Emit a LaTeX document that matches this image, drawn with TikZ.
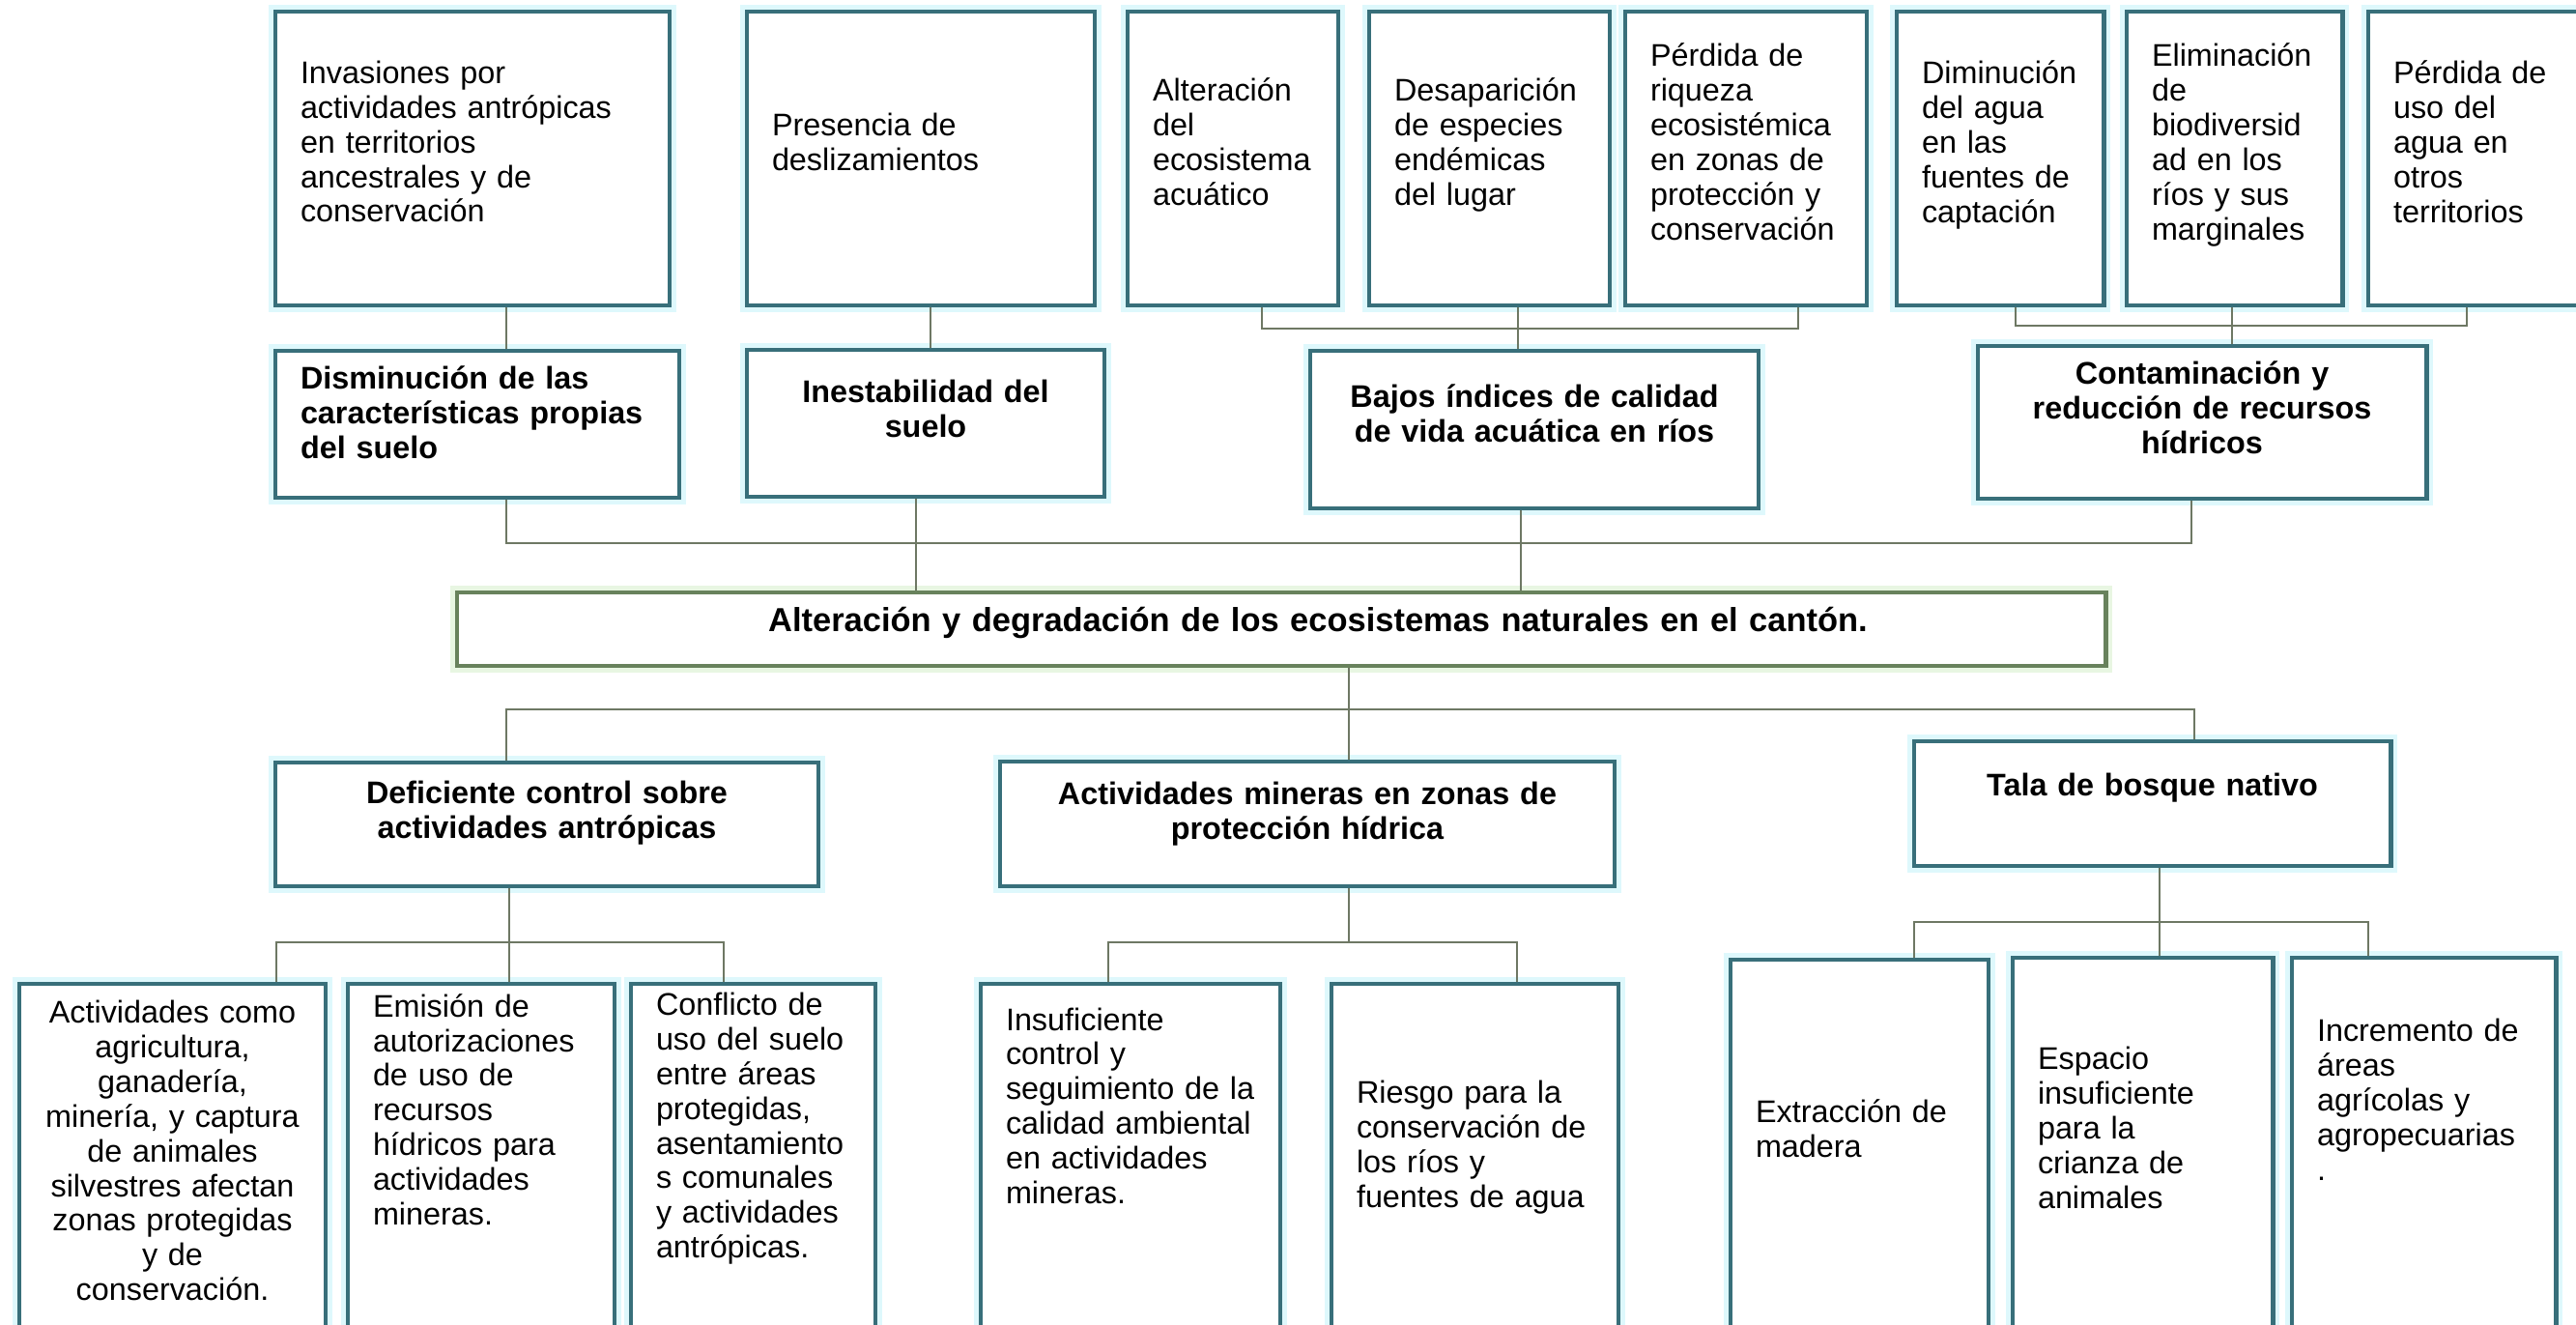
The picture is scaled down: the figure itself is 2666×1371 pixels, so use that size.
\documentclass[tikz,border=0pt]{standalone}
\usepackage{fontspec}
\setmainfont{Liberation Sans}
\hyphenpenalty=10000
\exhyphenpenalty=10000
\definecolor{boxteal}{RGB}{56,111,122}
\definecolor{coreline}{RGB}{104,130,92}
\definecolor{linkgray}{RGB}{110,120,100}
\definecolor{glow}{RGB}{222,248,252}
\definecolor{coreglow}{RGB}{232,246,226}

\begin{document}
\begin{tikzpicture}[
    x=0.01cm, y=-0.01cm,
    box/.style={
        draw=boxteal,
        line width=1.4pt,
        fill=white,
        rectangle,
        inner xsep=0.26cm,
        inner ysep=0pt,
        font=\fontsize{9.2}{10.2}\selectfont,
        preaction={draw=glow, line width=4pt}
    },
    effect/.style={box, align=left},
    cause/.style={box, align=center, font=\fontsize{9.2}{10.2}\selectfont\bfseries},
    core/.style={cause, draw=coreline, font=\fontsize{9.8}{10.8}\selectfont\bfseries, preaction={draw=coreglow, line width=4pt}},
    sz/.style 2 args={
        minimum width=#1*0.01cm,
        minimum height=#2*0.01cm,
        /utils/exec={\pgfmathsetlengthmacro\boxtw{(#1-52)*0.01cm}},
        text width=\boxtw
    },
    lift/.style={execute at end node={\rule[-#1]{0pt}{#1}}},
    link/.style={draw=linkgray, line width=0.7pt}
]
\useasboundingbox (0,0) rectangle (2666,1371);
\clip (0,0) rectangle (2666,1371);

% effects
\node[effect, sz={408}{304}, lift=0.35cm] (inv) at (489,164) {Invasiones por\\actividades antrópicas\\en territorios\\ancestrales y de\\conservación};
\node[effect, sz={360}{304}, lift=0.35cm] (pres) at (953,164) {Presencia de\\deslizamientos};
\node[effect, sz={218}{304}, lift=0.35cm] (alt) at (1276,164) {Alteración\\del\\ecosistema\\acuático};
\node[effect, sz={249}{304}, lift=0.35cm] (desap) at (1541.5,164) {Desaparición\\de especies\\endémicas\\del lugar};
\node[effect, sz={250}{304}, lift=0.35cm] (riq) at (1807,164) {Pérdida de\\riqueza\\ecosistémica\\en zonas de\\protección y\\conservación};
\node[effect, sz={214}{304}, lift=0.35cm] (dimin) at (2070,164) {Diminución\\del agua\\en las\\fuentes de\\captación};
\node[effect, sz={223}{304}, lift=0.35cm] (elim) at (2312.5,164) {Eliminación\\de\\biodiversid\\ad en los\\ríos y sus\\marginales};
\node[effect, sz={217}{304}, lift=0.35cm] (perdu) at (2559.5,164) {Pérdida de\\uso del\\agua en\\otros\\territorios};

\node[cause, sz={418}{152}, lift=0.24cm, align=left] (dism) at (494,439) {Disminución de las\\características propias\\del suelo};
\node[cause, sz={370}{152}, lift=0.31cm] (inest) at (958,438) {Inestabilidad del\\suelo};
\node[cause, sz={464}{163}, lift=0.34cm] (bajos) at (1588,444.5) {Bajos índices de calidad\\de vida acuática en ríos};
\node[cause, sz={464}{158}, lift=0.31cm] (cont) at (2279,437) {Contaminación y\\reducción de recursos\\hídricos};

% central problem
\node[core, sz={1706}{76}, lift=0.21cm] (core) at (1326,651) {\hspace*{0.76cm}Alteración y degradación de los ecosistemas naturales en el cantón.};

% causes
\node[cause, sz={562}{128}, lift=0.31cm] (defi) at (566,853) {Deficiente control sobre\\actividades antrópicas};
\node[cause, sz={636}{129}, lift=0.27cm] (mine) at (1353,852.5) {Actividades mineras en zonas de\\protección hídrica};
\node[cause, sz={493}{129}, lift=0.40cm] (tala) at (2227.5,831.5) {Tala de bosque nativo};

\node[effect, sz={317}{382}, lift=0.37cm, align=center] (act) at (178.5,1209) {Actividades como\\agricultura,\\ganadería,\\minería, y captura\\de animales\\silvestres afectan\\zonas protegidas\\y de\\conservación.};
\node[effect, sz={276}{382}, lift=1.22cm] (emis) at (498,1209) {Emisión de\\autorizaciones\\de uso de\\recursos\\hídricos para\\actividades\\mineras.};
\node[effect, sz={253}{382}, lift=0.89cm] (conf) at (779.5,1209) {Conflicto de\\uso del suelo\\entre áreas\\protegidas,\\asentamiento\\s comunales\\y actividades\\antrópicas.};
\node[effect, sz={310}{382}, lift=1.30cm] (insuf) at (1170,1209) {Insuficiente\\control y\\seguimiento de la\\calidad ambiental\\en actividades\\mineras.};
\node[effect, sz={297}{382}, lift=0.50cm] (ries) at (1526.5,1209) {Riesgo para la\\conservación de\\los ríos y\\fuentes de agua};
\node[effect, sz={267}{407}, lift=0.57cm] (extr) at (1924.5,1196.5) {Extracción de\\madera};
\node[effect, sz={269}{409}, lift=0.57cm] (esp) at (2217.5,1195.5) {Espacio\\insuficiente\\para la\\crianza de\\animales};
\node[effect, sz={273}{409}, lift=1.15cm] (incr) at (2508.5,1195.5) {Incremento de\\áreas\\agrícolas y\\agropecuarias\\.};

% upper brackets
\draw[link] (inv.south -| 524,0) -- (dism.north -| 524,0);
\draw[link] (pres.south -| 963,0) -- (inest.north -| 963,0);
\coordinate (qa) at (1306,340);
\coordinate (qb) at (1861,340);
\draw[link] (alt.south -| qa) |- (qb) -- (riq.south -| qb);
\draw[link] (desap.south -| 1571,0) -- (bajos.north -| 1571,0);
\coordinate (ra) at (2086,337);
\coordinate (rb) at (2553,337);
\draw[link] (dimin.south -| ra) |- (rb) -- (perdu.south -| rb);
\draw[link] (elim.south -| 2310,0) -- (cont.north -| 2310,0);

% second row to central problem
\coordinate (sa) at (524,562);
\coordinate (sb) at (2268,562);
\draw[link] (dism.south -| sa) |- (sb) -- (cont.south -| sb);
\draw[link] (inest.south -| 948,0) -- (core.north -| 948,0);
\draw[link] (bajos.south -| 1574,0) -- (core.north -| 1574,0);

% central problem to causes
\coordinate (ta) at (524,734);
\coordinate (tb) at (2271,734);
\draw[link] (defi.north -| ta) |- (tb) -- (tala.north -| tb);
\draw[link] (core.south -| 1396,0) -- (mine.north -| 1396,0);

% lower brackets
\coordinate (ua) at (286,975);
\coordinate (ub) at (749,975);
\draw[link] (act.north -| ua) |- (ub) -- (conf.north -| ub);
\draw[link] (defi.south -| 527,0) -- (emis.north -| 527,0);
\coordinate (va) at (1147,975);
\coordinate (vb) at (1570,975);
\draw[link] (insuf.north -| va) |- (vb) -- (ries.north -| vb);
\draw[link] (mine.south -| 1396,0) -- (va -| 1396,0);
\coordinate (wa) at (1981,954);
\coordinate (wb) at (2451,954);
\draw[link] (extr.north -| wa) |- (wb) -- (incr.north -| wb);
\draw[link] (tala.south -| 2235,0) -- (esp.north -| 2235,0);

\end{tikzpicture}
\end{document}
